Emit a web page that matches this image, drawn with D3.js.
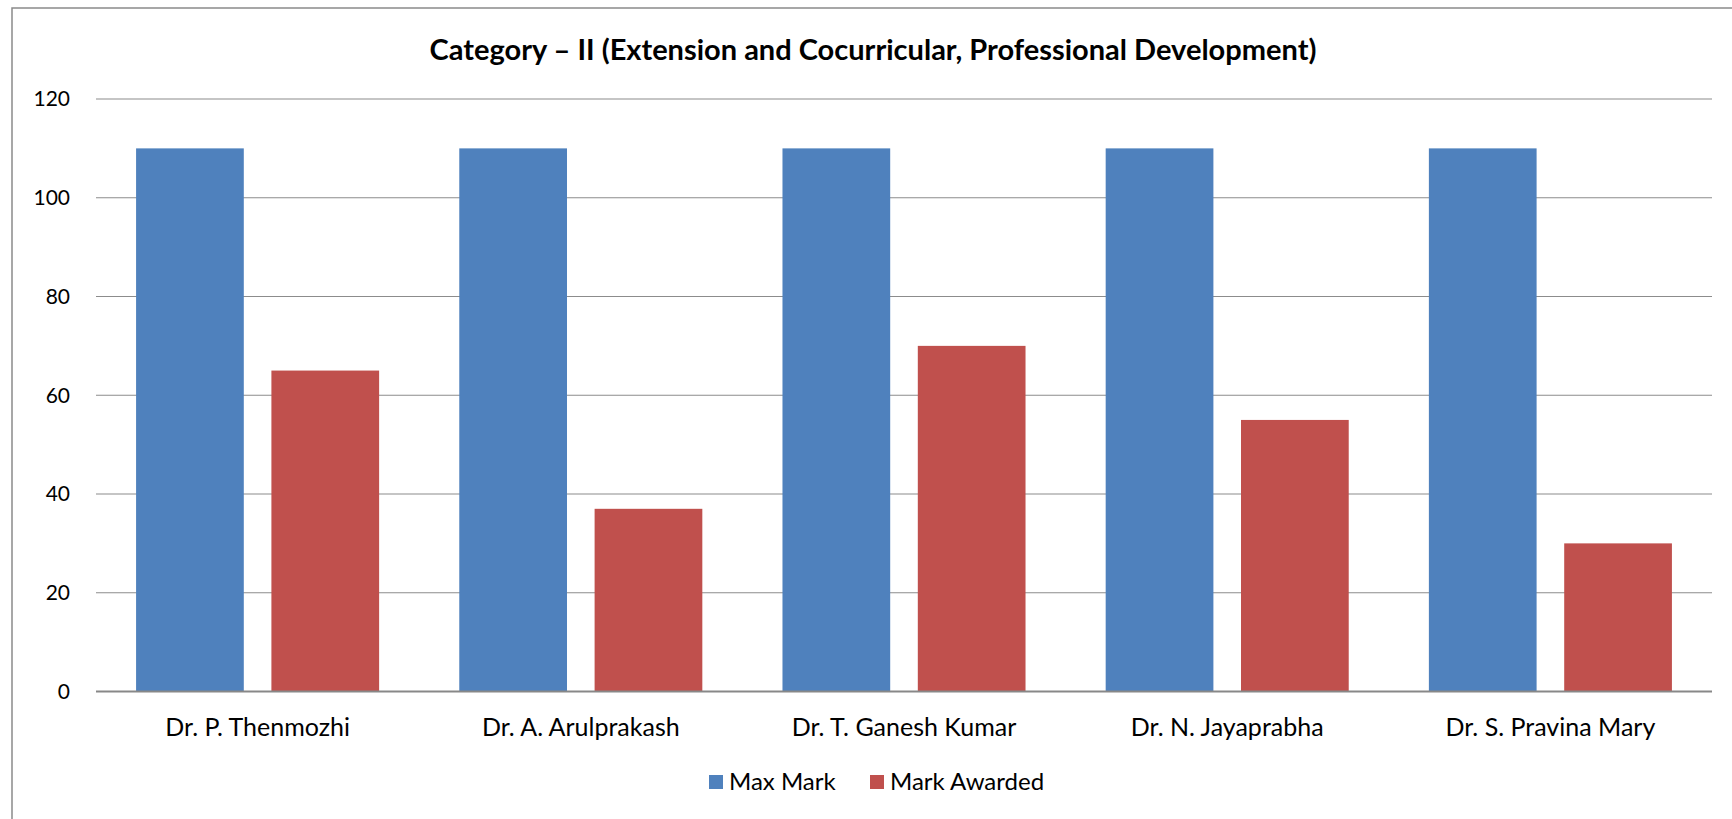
<!DOCTYPE html>
<html>
<head>
<meta charset="utf-8">
<script src="https://cdn.jsdelivr.net/npm/d3@7"></script>
<style>
  body { margin: 0; background: #fff; }
  text { font-family: Lato, "Noto Sans", sans-serif; fill: #000; }
</style>
</head>
<body>
<div id="container"></div>
<script>
const categories = ['Dr. P. Thenmozhi', 'Dr. A. Arulprakash', 'Dr. T. Ganesh Kumar', 'Dr. N. Jayaprabha', 'Dr. S. Pravina Mary'];
const seriesNames = ['Max Mark', 'Mark Awarded'];
const maxMark = [110, 110, 110, 110, 110];
const markAwarded = [65, 37, 70, 55, 30];
const yTicks = [0, 20, 40, 60, 80, 100, 120];
const colors = ['#4F81BD', '#C0504D'];

const width = 1732, height = 819;
const margin = { left: 96, right: 20, top: 99, bottom: 819 - 691.5 };

const svg = d3.select('#container').append('svg')
    .attr('width', width).attr('height', height);

// outer chart border (runs off right and bottom edge)
svg.append('path')
    .attr('d', `M12,${height + 5} L12,8 L${width + 5},8`)
    .attr('fill', 'none').attr('stroke', '#8a8a8a').attr('stroke-width', 1.5);

svg.append('text')
    .attr('x', 873).attr('y', 50).attr('dy', '0.35em')
    .attr('text-anchor', 'middle')
    .attr('font-weight', 'bold').attr('font-size', 29)
    .text('Category \u2013 II (Extension and Cocurricular, Professional Development)');

const x = d3.scaleBand().domain(categories)
    .range([margin.left, width - margin.right])
    .paddingInner(0.248).paddingOuter(0.124);
const x1 = d3.scaleBand().domain(seriesNames)
    .range([0, x.bandwidth()]).paddingInner(0.204);
const y = d3.scaleLinear().domain([0, 120]).range([height - margin.bottom, margin.top]);

// gridlines
svg.append('g').selectAll('line')
    .data(yTicks.filter(d => d > 0))
    .enter().append('line')
    .attr('x1', margin.left).attr('x2', width - margin.right)
    .attr('y1', d => y(d)).attr('y2', d => y(d))
    .attr('stroke', '#8c8c8c').attr('stroke-width', 1.2);

// y labels
svg.append('g').selectAll('text')
    .data(yTicks)
    .enter().append('text')
    .attr('x', 70).attr('y', d => y(d))
    .attr('dy', '0.35em')
    .attr('text-anchor', 'end').attr('font-size', 21)
    .text(d => d);

const rows = categories.map((c, i) => ({ cat: c, vals: [maxMark[i], markAwarded[i]] }));

let group = svg.selectAll('g.cat')
    .data(rows)
    .enter()
    .append('g').attr('class', 'cat')
    .attr('transform', d => `translate(${x(d.cat)}, 0)`);

group.selectAll('rect')
    .data(d => d.vals.map((v, j) => ({ name: seriesNames[j], v, j })))
    .enter().append('rect')
    .attr('x', d => x1(d.name))
    .attr('width', x1.bandwidth())
    .attr('y', d => y(d.v))
    .attr('height', d => y(0) - y(d.v))
    .attr('fill', d => colors[d.j]);

// baseline
svg.append('line')
    .attr('x1', margin.left).attr('x2', width - margin.right)
    .attr('y1', y(0)).attr('y2', y(0))
    .attr('stroke', '#888').attr('stroke-width', 2);

// category labels
svg.append('g').selectAll('text')
    .data(categories)
    .enter().append('text')
    .attr('x', d => x(d) + x.bandwidth() / 2)
    .attr('y', 727).attr('dy', '0.35em')
    .attr('text-anchor', 'middle').attr('font-size', 25)
    .text(d => d);

// legend
const legendX = [709, 870];
let legend = svg.selectAll('g.legend')
    .data(seriesNames)
    .enter().append('g').attr('class', 'legend')
    .attr('transform', (d, i) => `translate(${legendX[i]}, 782)`);
legend.append('rect')
    .attr('x', 0).attr('y', -7)
    .attr('width', 14).attr('height', 14)
    .attr('fill', (d, i) => colors[i]);
legend.append('text')
    .attr('x', 20).attr('y', 0).attr('dy', '0.35em')
    .attr('font-size', 24)
    .text(d => d);
</script>
</body>
</html>
